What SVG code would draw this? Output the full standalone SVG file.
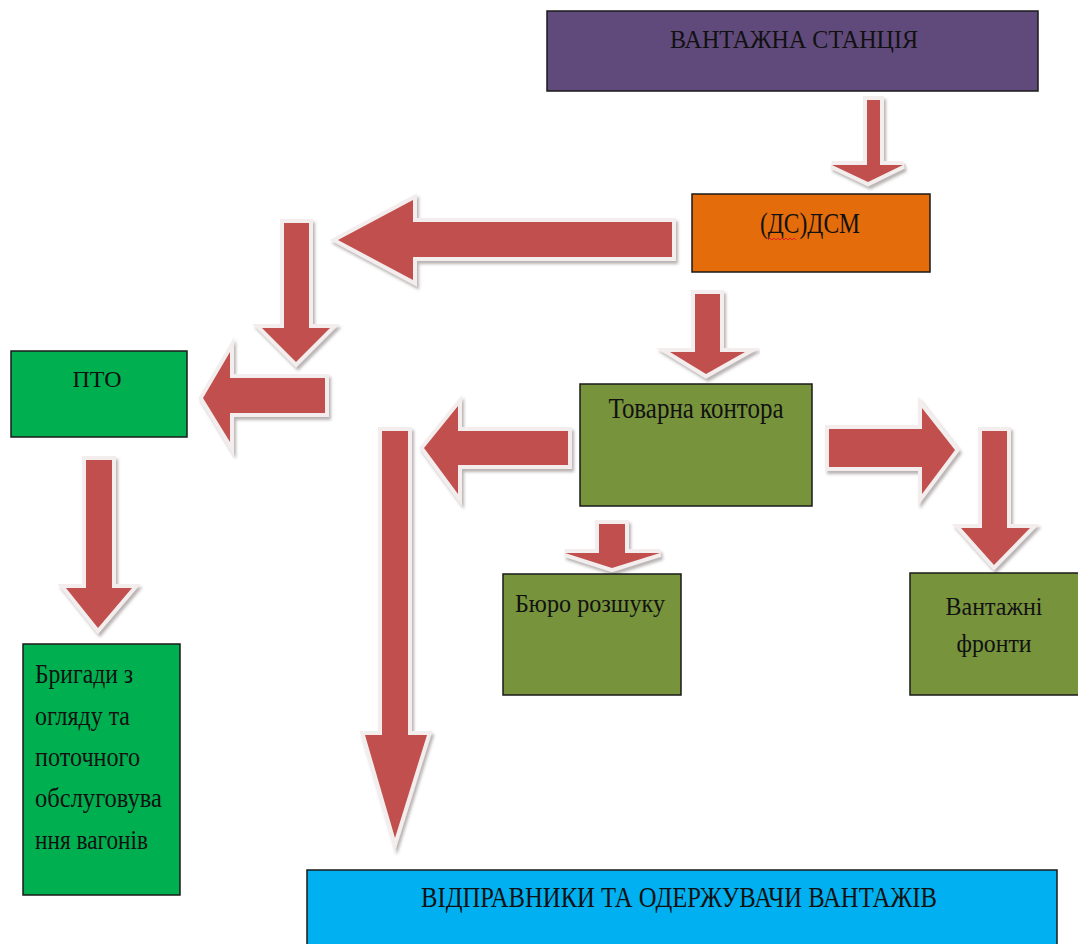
<svg xmlns="http://www.w3.org/2000/svg" width="1078" height="944" viewBox="0 0 1078 944">
<style>
.box{stroke:#1a1a1a;stroke-width:1.5}
.t{font-family:"Liberation Serif","Times New Roman",serif;fill:#111;}
.arrow{fill:#c0504d;stroke:#f3eded;stroke-width:8;stroke-linejoin:miter;paint-order:stroke;filter:url(#sh)}
</style>
<defs>
<filter id="sh" x="-20%" y="-20%" width="140%" height="140%">
<feDropShadow dx="2" dy="3" stdDeviation="1.5" flood-color="#8a8080" flood-opacity="0.6"/>
</filter>
</defs>
<rect width="1078" height="944" fill="#fff"/>

<g id="connectors">
<polygon class="arrow" points="867,100 880,100 880,165 903,165 868,182 832,165 867,165"/>
<polygon class="arrow" points="672,222 672,257 413,257 413,280 338,240 413,200 413,222"/>
<polygon class="arrow" points="284,223 309,223 309,328 330,328 296,362 262,328 284,328"/>
<polygon class="arrow" points="325,378 325,413 230,413 230,442 203,398 230,352 230,378"/>
<polygon class="arrow" points="86,460 112,460 112,588 132,588 98,628 66,588 86,588"/>
<polygon class="arrow" points="695,294 720,294 720,352 745,352 706,374 670,352 695,352"/>
<polygon class="arrow" points="568,431 568,465 458,465 458,494 424,448 458,406 458,431"/>
<polygon class="arrow" points="382,431 408,431 408,735 427,735 395,838 365,735 382,735"/>
<polygon class="arrow" points="599,524 625,524 625,553 660,553 612,568 565,553 599,553"/>
<polygon class="arrow" points="829,429 922,429 922,408 955,450 922,494 922,467 829,467"/>
<polygon class="arrow" points="982,431 1007,431 1007,528 1030,528 994,565 961,528 982,528"/>
</g>

<g id="vantazhna-stantsiia">
<rect class="box" x="547" y="11" width="491" height="80" fill="#604a7b"/>
<text class="t" x="794" y="48" font-size="26" text-anchor="middle" textLength="248" lengthAdjust="spacingAndGlyphs">ВАНТАЖНА СТАНЦІЯ</text>
</g>

<g id="dsm">
<rect class="box" x="692" y="194" width="238" height="78" fill="#e46c0a"/>
<text class="t" x="810" y="233" font-size="29" text-anchor="middle" textLength="100" lengthAdjust="spacingAndGlyphs">(ДС)ДСМ</text>
<path d="M768,240 l2,-2 l2,2 l2,-2 l2,2 l2,-2 l2,2 l2,-2 l2,2 l2,-2 l2,2 l2,-2 l2,2 l2,-2 l2,2" fill="none" stroke="#e02020" stroke-width="1"/>
</g>

<g id="pto">
<rect class="box" x="11" y="351" width="176" height="86" fill="#00b050"/>
<text class="t" x="97" y="387" font-size="23" text-anchor="middle" textLength="49" lengthAdjust="spacingAndGlyphs">ПТО</text>
</g>

<g id="bryhady">
<rect class="box" x="23" y="644" width="157" height="251" fill="#00b050"/>
<text class="t" x="35" y="683" font-size="27" textLength="98" lengthAdjust="spacingAndGlyphs">Бригади з</text>
<text class="t" x="35" y="725" font-size="27" textLength="95" lengthAdjust="spacingAndGlyphs">огляду та</text>
<text class="t" x="35" y="766" font-size="27" textLength="105" lengthAdjust="spacingAndGlyphs">поточного</text>
<text class="t" x="35" y="807" font-size="27" textLength="127" lengthAdjust="spacingAndGlyphs">обслуговува</text>
<text class="t" x="35" y="849" font-size="27" textLength="113" lengthAdjust="spacingAndGlyphs">ння вагонів</text>
</g>

<g id="tovarna-kontora">
<rect class="box" x="580" y="384" width="232" height="122" fill="#77933c"/>
<text class="t" x="696" y="418" font-size="29" text-anchor="middle" textLength="175" lengthAdjust="spacingAndGlyphs">Товарна контора</text>
</g>

<g id="biuro-rozshuku">
<rect class="box" x="503" y="574" width="178" height="121" fill="#77933c"/>
<text class="t" x="515" y="612" font-size="25" textLength="150" lengthAdjust="spacingAndGlyphs">Бюро розшуку</text>
</g>

<g id="vantazhni-fronty">
<rect class="box" x="910" y="573" width="172" height="122" fill="#77933c"/>
<text class="t" x="994" y="615" font-size="26" text-anchor="middle" textLength="97" lengthAdjust="spacingAndGlyphs">Вантажні</text>
<text class="t" x="994" y="652" font-size="26" text-anchor="middle" textLength="75" lengthAdjust="spacingAndGlyphs">фронти</text>
</g>

<g id="vidpravnyky">
<rect class="box" x="307" y="870" width="750" height="90" fill="#00b0f0"/>
<text class="t" x="679" y="907" font-size="30" text-anchor="middle" textLength="516" lengthAdjust="spacingAndGlyphs">ВІДПРАВНИКИ ТА ОДЕРЖУВАЧИ ВАНТАЖІВ</text>
</g>
</svg>
